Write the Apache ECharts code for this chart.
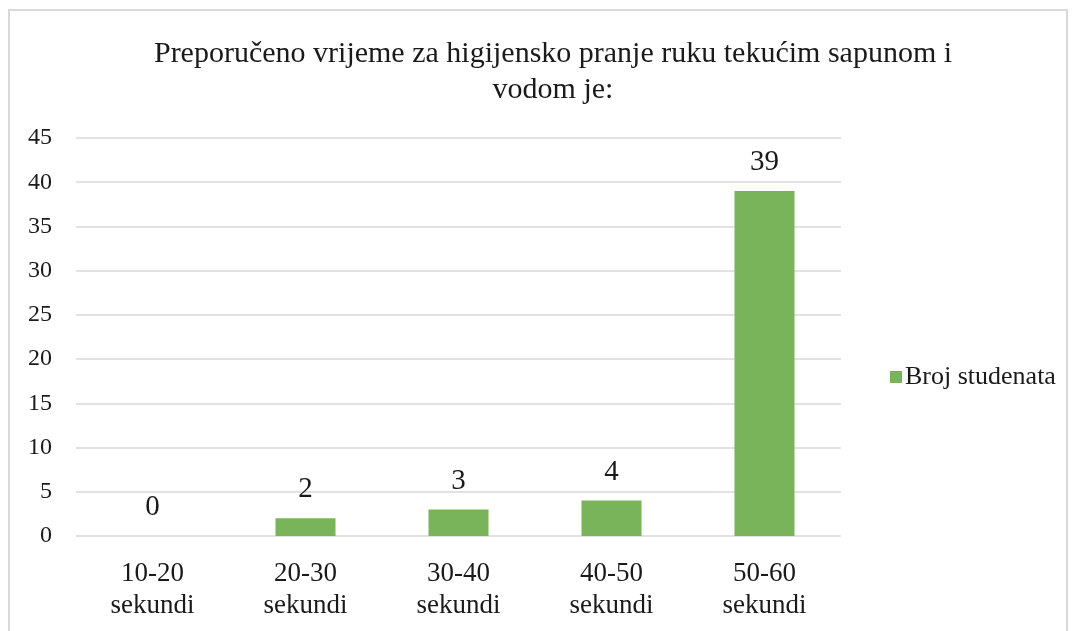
<!DOCTYPE html>
<html>
<head>
<meta charset="utf-8">
<script src="https://cdn.jsdelivr.net/npm/echarts@6/dist/echarts.min.js"></script>
<style>
  html, body { margin: 0; padding: 0; background: #fff; }
  #chart { width: 1075px; height: 631px; }
</style>
</head>
<body>
<div id="chart"></div>
<script>
// podaci
let categories = ['10-20\nsekundi', '20-30\nsekundi', '30-40\nsekundi', '40-50\nsekundi', '50-60\nsekundi'];
let studenti = [0, 2, 3, 4, 39];
let seriesName = 'Broj studenata';
let titleText = 'Preporučeno vrijeme za higijensko pranje ruku tekućim sapunom i\nvodom je:';

const font = "'Liberation Serif', 'Times New Roman', serif";

let chart = echarts.init(document.getElementById('chart'));

let option = {
    animation: false,
    textStyle: { fontFamily: font },
    graphic: [{
        type: 'rect',
        shape: { x: 9, y: 10, width: 1058, height: 640 },
        style: { fill: 'none', stroke: '#d9d9d9', lineWidth: 2 },
        silent: true
    }],
    title: {
        text: titleText,
        left: 548,
        textAlign: 'center',
        top: 31,
        textStyle: {
            fontFamily: font,
            fontWeight: 'normal',
            fontSize: 30,
            lineHeight: 36,
            color: '#1a1a1a'
        }
    },
    legend: {
        data: [seriesName],
        left: 885,
        top: 359,
        icon: 'rect',
        itemWidth: 12,
        itemHeight: 12,
        itemGap: 6,
        textStyle: { fontFamily: font, fontSize: 26, color: '#1a1a1a', padding: [0, 0, 0, -2] }
    },
    grid: {
        left: 76,
        right: 234,
        top: 138,
        bottom: 95
    },
    xAxis: {
        type: 'category',
        data: categories,
        axisLine: { show: false },
        axisTick: { show: false },
        axisLabel: {
            margin: 22,
            fontFamily: font,
            fontSize: 27,
            lineHeight: 32,
            color: '#1a1a1a'
        }
    },
    yAxis: {
        type: 'value',
        min: 0,
        max: 45,
        interval: 5,
        axisLine: { show: false },
        axisTick: { show: false },
        axisLabel: {
            margin: 24,
            fontFamily: font,
            fontSize: 24,
            color: '#1a1a1a'
        },
        splitLine: { lineStyle: { color: '#d9d9d9', width: 1.5 } }
    },
    series: [{
        name: seriesName,
        type: 'bar',
        data: studenti,
        barWidth: 60,
        itemStyle: { color: '#7ab45a' },
        label: {
            show: true,
            position: 'top',
            distance: 14,
            fontFamily: font,
            fontSize: 29,
            color: '#1a1a1a'
        }
    }]
};

chart.setOption(option);
</script>
</body>
</html>
